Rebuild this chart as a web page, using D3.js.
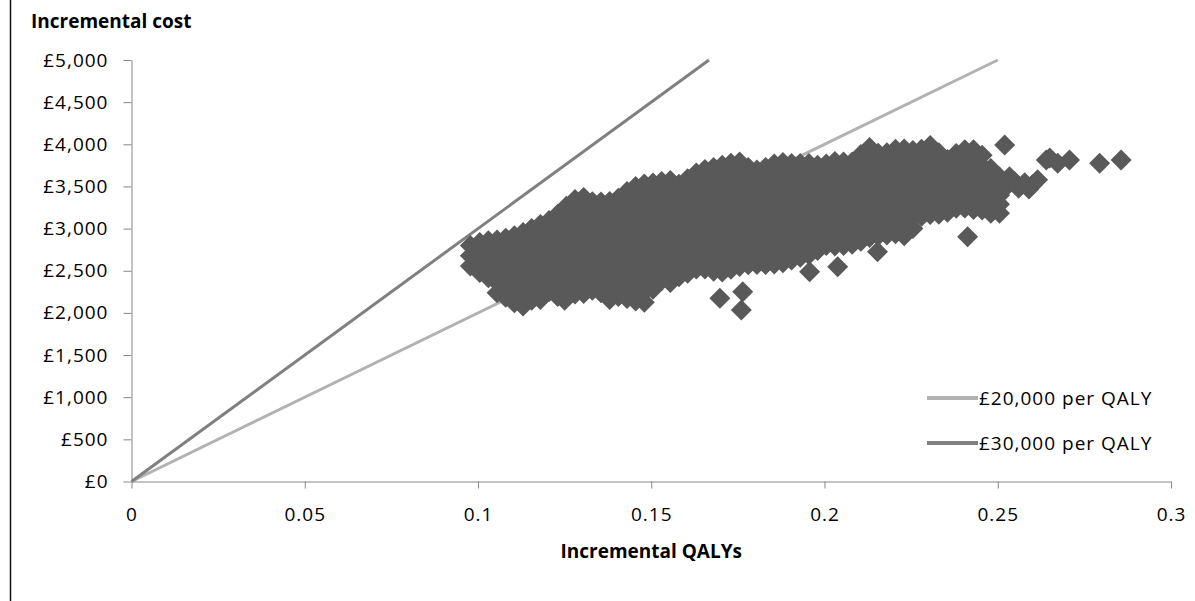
<!DOCTYPE html>
<html>
<head>
<meta charset="utf-8">
<script src="https://cdn.jsdelivr.net/npm/d3@7"></script>
<style>
  body { margin: 0; background: #fff; }
  text { font-family: "Open Sans", sans-serif; fill: #000; }
</style>
</head>
<body>
<svg id="chart" width="1195" height="601"></svg>
<script>
// axis ticks
var xTicks = [0, 0.05, 0.1, 0.15, 0.2, 0.25, 0.3];
var yTicks = [0, 500, 1000, 1500, 2000, 2500, 3000, 3500, 4000, 4500, 5000];

// willingness-to-pay thresholds (cost per QALY)
var thresholds = [20000, 30000];
var thresholdNames = ["£20,000 per QALY", "£30,000 per QALY"];

// PSA draws, grouped by incremental QALYs:
// drawQalys[i] goes with every incremental cost in drawCosts[i]
var drawQalys = [
  0.0978, 0.1005, 0.1030, 0.1055, 0.1080, 0.1105, 0.1130, 0.1155, 0.1180, 0.1205,
  0.1230, 0.1255, 0.1280, 0.1305, 0.1330, 0.1355, 0.1380, 0.1405, 0.1430, 0.1455,
  0.1480, 0.1505, 0.1530, 0.1555, 0.1580, 0.1605, 0.1630, 0.1655, 0.1680, 0.1705,
  0.1730, 0.1755, 0.1780, 0.1805, 0.1830, 0.1855, 0.1880, 0.1905, 0.1930, 0.1955,
  0.1980, 0.2005, 0.2030, 0.2055, 0.2080, 0.2105, 0.2130, 0.2155, 0.2180, 0.2205,
  0.2230, 0.2255, 0.2280, 0.2305, 0.2330, 0.2355, 0.2380, 0.2405, 0.2430, 0.2455,
  0.2480, 0.2505
];
var drawCosts = [
  [2556, 2678, 2800],
  [2479, 2598, 2716, 2835],
  [2418, 2528, 2637, 2747, 2856],
  [2240, 2365, 2490, 2616, 2741, 2866],
  [2186, 2303, 2419, 2536, 2652, 2769, 2885],
  [2120, 2253, 2385, 2518, 2650, 2783, 2915],
  [2082, 2207, 2331, 2456, 2581, 2706, 2830, 2955],
  [2150, 2271, 2393, 2514, 2636, 2757, 2879, 3000],
  [2159, 2286, 2414, 2541, 2668, 2796, 2923, 3050],
  [2250, 2371, 2492, 2613, 2733, 2854, 2975, 3096],
  [2195, 2317, 2439, 2561, 2683, 2804, 2926, 3048, 3170],
  [2230, 2359, 2489, 2618, 2748, 2877, 3006, 3136, 3265],
  [2225, 2349, 2474, 2598, 2723, 2847, 2972, 3096, 3221, 3345],
  [2230, 2357, 2483, 2610, 2737, 2863, 2990, 3117, 3243, 3370],
  [2270, 2401, 2533, 2664, 2795, 2926, 3058, 3189, 3320],
  [2240, 2374, 2509, 2643, 2778, 2912, 3046, 3181, 3315],
  [2159, 2288, 2417, 2546, 2675, 2805, 2934, 3063, 3192, 3321],
  [2195, 2324, 2454, 2583, 2713, 2842, 2971, 3101, 3230, 3360],
  [2170, 2297, 2424, 2551, 2678, 2805, 2932, 3059, 3186, 3313, 3440],
  [2140, 2276, 2412, 2548, 2684, 2820, 2956, 3092, 3228, 3364, 3500],
  [2125, 2253, 2380, 2508, 2636, 2764, 2891, 3019, 3147, 3275, 3402, 3530],
  [2280, 2406, 2532, 2658, 2784, 2910, 3036, 3162, 3288, 3414, 3540],
  [2385, 2516, 2646, 2777, 2907, 3038, 3168, 3299, 3429, 3560],
  [2360, 2494, 2629, 2763, 2898, 3032, 3167, 3301, 3436, 3570],
  [2430, 2567, 2704, 2841, 2978, 3114, 3251, 3388, 3525],
  [2470, 2594, 2719, 2843, 2968, 3092, 3217, 3341, 3466, 3590],
  [2520, 2647, 2773, 2900, 3027, 3153, 3280, 3407, 3533, 3660],
  [2520, 2651, 2782, 2913, 3044, 3176, 3307, 3438, 3569, 3700],
  [2495, 2632, 2768, 2905, 3042, 3178, 3315, 3452, 3588, 3725],
  [2485, 2612, 2738, 2865, 2992, 3119, 3245, 3372, 3499, 3625, 3752],
  [2518, 2644, 2769, 2895, 3021, 3147, 3272, 3398, 3524, 3649, 3775],
  [2550, 2688, 2826, 2963, 3101, 3239, 3377, 3514, 3652, 3790],
  [2570, 2698, 2827, 2955, 3083, 3212, 3340, 3468, 3597, 3725],
  [2574, 2699, 2823, 2948, 3072, 3197, 3321, 3446, 3570, 3695],
  [2574, 2702, 2830, 2958, 3086, 3213, 3341, 3469, 3597, 3725],
  [2580, 2712, 2843, 2975, 3107, 3238, 3370, 3502, 3633, 3765],
  [2595, 2727, 2859, 2992, 3124, 3256, 3388, 3521, 3653, 3785],
  [2628, 2755, 2882, 3009, 3136, 3264, 3391, 3518, 3645, 3772],
  [2660, 2784, 2907, 3031, 3154, 3278, 3402, 3525, 3649, 3772],
  [2690, 2825, 2961, 3096, 3231, 3366, 3502, 3637, 3772],
  [2740, 2867, 2993, 3120, 3246, 3373, 3499, 3626, 3752],
  [2800, 2921, 3041, 3162, 3283, 3403, 3524, 3644, 3765],
  [2795, 2920, 3045, 3170, 3295, 3420, 3545, 3670, 3795],
  [2800, 2924, 3048, 3171, 3295, 3419, 3543, 3666, 3790],
  [2815, 2937, 3059, 3181, 3303, 3424, 3546, 3668, 3790],
  [2850, 2979, 3108, 3236, 3365, 3494, 3623, 3751, 3880],
  [2894, 3028, 3161, 3295, 3428, 3562, 3695, 3829, 3962],
  [2915, 3038, 3160, 3283, 3405, 3528, 3650, 3773, 3895],
  [2925, 3047, 3169, 3291, 3413, 3534, 3656, 3778, 3900],
  [2938, 3063, 3189, 3314, 3439, 3564, 3689, 3815, 3940],
  [2915, 3044, 3173, 3301, 3430, 3559, 3688, 3816, 3945],
  [3000, 3132, 3265, 3397, 3529, 3661, 3794, 3926],
  [3145, 3278, 3410, 3543, 3675, 3808, 3940],
  [3167, 3304, 3440, 3577, 3713, 3850, 3986],
  [3170, 3292, 3413, 3535, 3657, 3778, 3900],
  [3195, 3320, 3445, 3570, 3695, 3820],
  [3240, 3370, 3500, 3630, 3760, 3890],
  [3245, 3383, 3521, 3659, 3797, 3935],
  [3227, 3345, 3463, 3581, 3699, 3817, 3935],
  [3220, 3350, 3480, 3610, 3740, 3870],
  [3181, 3314, 3447, 3580, 3713],
  [3181, 3289, 3397, 3504, 3612]
];

// scattered draws away from the main cloud: [incremental QALYs, incremental cost]
var strayDraws = [
  [0.1250, 2150], [0.1698, 2173], [0.1760, 2034], [0.1764, 2251], [0.1957, 2489],
  [0.2038, 2548], [0.2153, 2726], [0.2413, 2904],
  [0.2520, 3991], [0.2534, 3616], [0.2520, 3478], [0.2548, 3560], [0.2560, 3480],
  [0.2578, 3545], [0.2590, 3470], [0.2600, 3520], [0.2615, 3580],
  [0.2640, 3814], [0.2650, 3837], [0.2673, 3774], [0.2707, 3814],
  [0.2794, 3774], [0.2856, 3814]
];

var psaDraws = [];
drawQalys.forEach((q, i) => drawCosts[i].forEach(c => psaDraws.push([q, c])));
psaDraws = psaDraws.concat(strayDraws);

var svg = d3.select("#chart");

// plot area in pixels
var plotLeft = 131.5, plotRight = 1171, plotTop = 60, plotBottom = 481.5;

var x = d3.scaleLinear().domain([0, 0.3]).range([plotLeft, plotRight]);
var y = d3.scaleLinear().domain([0, 5000]).range([plotBottom, plotTop]);

var lineColors = d3.scaleOrdinal().domain(thresholds).range(["#b2b2b2", "#808080"]);

// frame edge on the left
svg.append("line")
  .attr("x1", 10.5).attr("x2", 10.5)
  .attr("y1", 0).attr("y2", 601)
  .attr("stroke", "#111").attr("stroke-width", 1.5);

// y axis
var yAxis = d3.axisLeft(y)
  .tickValues(yTicks)
  .tickSize(8)
  .tickSizeOuter(0)
  .tickPadding(15)
  .tickFormat(d => "£" + d3.format(",")(d));

var gy = svg.append("g")
  .attr("transform", `translate(${plotLeft},0)`)
  .call(yAxis);

// x axis
var xAxis = d3.axisBottom(x)
  .tickValues(xTicks)
  .tickSize(7)
  .tickSizeOuter(0)
  .tickPadding(19)
  .tickFormat(d => String(d));

var gx = svg.append("g")
  .attr("transform", `translate(0,${plotBottom})`)
  .call(xAxis);

[gx, gy].forEach(g => {
  g.select(".domain").attr("stroke", "#868686").attr("stroke-width", 1);
  g.selectAll(".tick line").attr("stroke", "#868686");
  g.selectAll(".tick text")
    .attr("fill", "#000")
    .style("font-size", "19px")
    .style("letter-spacing", "1px")
    .style("font-family", '"Open Sans", sans-serif');
});

// threshold lines from the origin to the edge of the plot
var line = d3.line().x(d => x(d[0])).y(d => y(d[1]));

svg.append("g").selectAll("path")
  .data(thresholds)
  .enter()
  .append("path")
  .attr("d", t => {
    var qEnd = Math.min(0.3, 5000 / t);
    return line([[0, 0], [qEnd, qEnd * t]]);
  })
  .attr("fill", "none")
  .attr("stroke", t => lineColors(t))
  .attr("stroke-width", 3);

// scatter of PSA draws
var diamond = d3.symbol().type(d3.symbolDiamond2).size(281);

svg.append("g").selectAll("path")
  .data(psaDraws)
  .enter()
  .append("path")
  .attr("d", diamond)
  .attr("transform", d => `translate(${x(d[0])},${y(d[1])})`)
  .attr("fill", "#595959");

// legend
var legend = svg.append("g").selectAll("g")
  .data(thresholds)
  .enter()
  .append("g")
  .attr("transform", (t, i) => `translate(927,${398 + i * 45})`);

legend.append("line")
  .attr("x1", 0).attr("x2", 51)
  .attr("stroke", t => lineColors(t))
  .attr("stroke-width", 4);

legend.append("text")
  .attr("x", 52)
  .attr("dy", "0.35em")
  .style("font-size", "19px")
  .style("letter-spacing", "1px")
  .text((t, i) => thresholdNames[i]);

// axis titles
svg.append("text")
  .attr("x", 31).attr("y", 28)
  .style("font-size", "19px")
  .style("font-weight", "bold")
  .text("Incremental cost");

svg.append("text")
  .attr("x", (plotLeft + plotRight) / 2).attr("y", 558)
  .attr("text-anchor", "middle")
  .style("font-size", "19px")
  .style("font-weight", "bold")
  .text("Incremental QALYs");
</script>
</body>
</html>
